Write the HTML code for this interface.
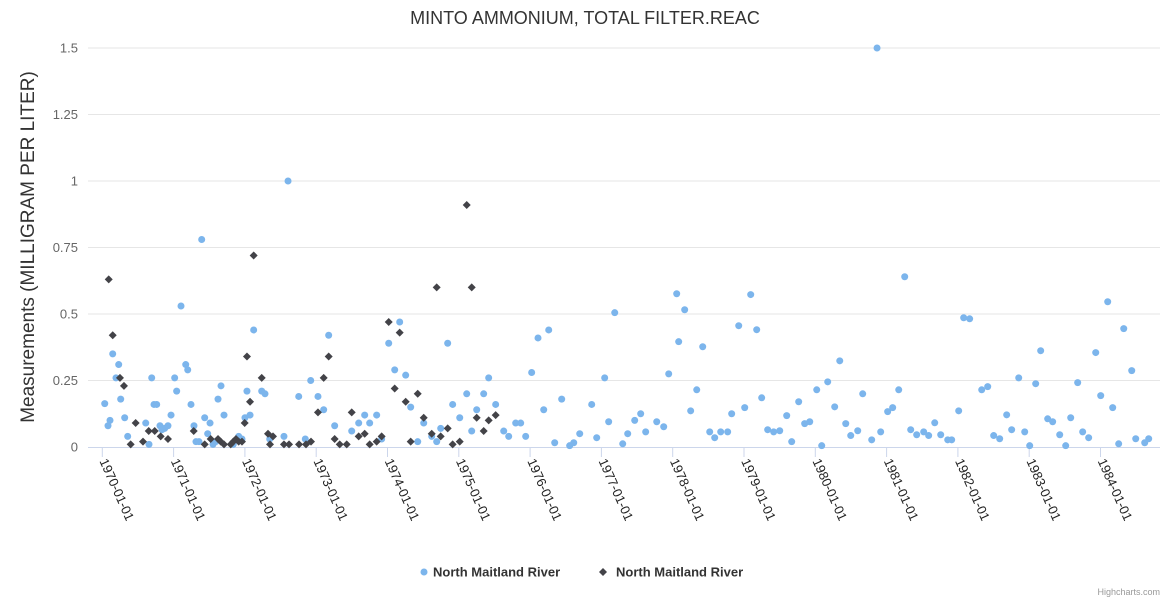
<!DOCTYPE html>
<html><head><meta charset="utf-8"><style>
html,body{margin:0;padding:0;background:#fff;}
svg{display:block;font-family:"Liberation Sans",sans-serif;}
</style></head><body>
<svg id="chart" width="1170" height="600" viewBox="0 0 1170 600">
<text x="585" y="24" text-anchor="middle" font-size="18" fill="#333">MINTO AMMONIUM, TOTAL FILTER.REAC</text>
<text transform="translate(34,247) rotate(-90)" text-anchor="middle" font-size="19" fill="#333">Measurements (MILLIGRAM PER LITER)</text>
<g id="grid"></g>
<g id="xaxis"></g>
<g id="s1"></g>
<g id="s2"></g>
<g>
<g><circle cx="424" cy="572" r="3.5" fill="#7cb5ec"/><text x="433" y="576.5" font-size="13" font-weight="bold" fill="#333">North Maitland River</text></g>
<g><path d="M603 568 L607 572 L603 576 L599 572 Z" fill="#434348"/><text x="616" y="576.5" font-size="13" font-weight="bold" fill="#333">North Maitland River</text></g>
</g>
<text x="1160" y="595" text-anchor="end" font-size="9" fill="#999">Highcharts.com</text>
</svg>
<script>
const yTicks=[0,0.25,0.5,0.75,1,1.25,1.5];
const yTickLabels=["0","0.25","0.5","0.75","1","1.25","1.5"];
const xTickYears=[1970,1971,1972,1973,1974,1975,1976,1977,1978,1979,1980,1981,1982,1983,1984];
const xTickLabels=["1970-01-01","1971-01-01","1972-01-01","1973-01-01","1974-01-01","1975-01-01","1976-01-01","1977-01-01","1978-01-01","1979-01-01","1980-01-01","1981-01-01","1982-01-01","1983-01-01","1984-01-01"];
const blueOffsets=[0.034,0.080,0.108,0.146,0.192,0.230,0.258,0.314,0.356,0.609,0.655,0.693,0.725,0.763,0.809,0.837,0.875,0.921,0.964,1.015,1.043,1.104,1.170,1.198,1.244,1.286,1.314,1.356,1.394,1.436,1.478,1.511,1.553,1.590,1.623,1.665,1.707,1.837,1.913,1.959,2.001,2.029,2.072,2.123,2.236,2.282,2.348,2.548,2.605,2.755,2.847,2.923,3.025,3.105,3.175,3.259,3.498,3.596,3.680,3.750,3.848,3.918,4.017,4.101,4.171,4.255,4.325,4.424,4.508,4.620,4.690,4.746,4.844,4.914,5.013,5.111,5.181,5.251,5.349,5.419,5.517,5.630,5.700,5.798,5.868,5.938,6.022,6.111,6.191,6.261,6.345,6.443,6.555,6.612,6.696,6.864,6.934,7.046,7.102,7.187,7.299,7.369,7.467,7.551,7.621,7.776,7.874,7.944,8.056,8.084,8.168,8.252,8.337,8.421,8.519,8.589,8.673,8.771,8.827,8.926,9.010,9.094,9.178,9.248,9.332,9.416,9.501,9.599,9.669,9.767,9.851,9.922,10.020,10.090,10.174,10.272,10.343,10.427,10.497,10.595,10.665,10.791,10.866,10.917,11.015,11.085,11.170,11.254,11.338,11.422,11.520,11.590,11.675,11.759,11.857,11.913,12.011,12.081,12.165,12.334,12.418,12.502,12.586,12.684,12.754,12.853,12.937,13.007,13.091,13.161,13.259,13.329,13.428,13.512,13.582,13.680,13.750,13.834,13.933,14.003,14.101,14.171,14.255,14.326,14.438,14.494,14.620,14.676];
const blueValues=[0.163,0.08,0.10,0.35,0.26,0.31,0.18,0.11,0.04,0.09,0.01,0.26,0.16,0.16,0.08,0.065,0.07,0.08,0.12,0.26,0.21,0.53,0.31,0.29,0.16,0.08,0.02,0.02,0.78,0.11,0.05,0.09,0.01,0.02,0.18,0.23,0.12,0.01,0.04,0.03,0.11,0.21,0.12,0.44,0.21,0.20,0.03,0.04,1.0,0.19,0.03,0.25,0.19,0.14,0.42,0.08,0.06,0.09,0.12,0.09,0.12,0.03,0.39,0.29,0.47,0.27,0.15,0.02,0.09,0.04,0.02,0.07,0.39,0.16,0.11,0.20,0.06,0.14,0.20,0.26,0.16,0.06,0.04,0.09,0.09,0.04,0.28,0.41,0.14,0.44,0.016,0.18,0.005,0.016,0.05,0.16,0.035,0.26,0.095,0.505,0.012,0.05,0.10,0.125,0.057,0.095,0.076,0.275,0.576,0.396,0.516,0.136,0.215,0.377,0.057,0.035,0.057,0.057,0.125,0.456,0.148,0.573,0.441,0.185,0.065,0.057,0.061,0.118,0.02,0.17,0.088,0.095,0.215,0.005,0.245,0.151,0.324,0.088,0.043,0.061,0.2,0.027,1.5,0.057,0.133,0.148,0.215,0.64,0.065,0.046,0.057,0.043,0.091,0.046,0.027,0.027,0.136,0.486,0.482,0.215,0.227,0.043,0.031,0.121,0.065,0.26,0.057,0.005,0.238,0.362,0.106,0.095,0.046,0.005,0.11,0.242,0.057,0.035,0.355,0.193,0.546,0.148,0.012,0.445,0.287,0.031,0.016,0.031];
const blackOffsets=[0.090,0.146,0.248,0.304,0.398,0.468,0.571,0.651,0.735,0.819,0.921,1.282,1.436,1.520,1.623,1.661,1.707,1.801,1.837,1.875,1.913,1.959,1.997,2.029,2.072,2.123,2.236,2.324,2.352,2.394,2.548,2.619,2.759,2.857,2.927,3.025,3.105,3.175,3.259,3.330,3.428,3.498,3.596,3.680,3.750,3.848,3.918,4.017,4.101,4.171,4.255,4.325,4.424,4.508,4.620,4.690,4.746,4.844,4.914,5.013,5.111,5.181,5.251,5.349,5.419,5.517];
const blackValues=[0.63,0.42,0.26,0.23,0.01,0.09,0.02,0.06,0.06,0.04,0.03,0.06,0.01,0.03,0.03,0.02,0.01,0.01,0.02,0.03,0.02,0.02,0.09,0.34,0.17,0.72,0.26,0.05,0.01,0.04,0.01,0.01,0.01,0.01,0.02,0.13,0.26,0.34,0.03,0.01,0.01,0.13,0.04,0.05,0.01,0.02,0.04,0.47,0.22,0.43,0.17,0.02,0.20,0.11,0.05,0.60,0.04,0.07,0.01,0.02,0.91,0.60,0.11,0.06,0.10,0.12];
const baseYear=1970;
const NS="http://www.w3.org/2000/svg";
function xPos(year){return 102.3+(year-1970)*71.3;}
function yPos(v){return 447-v*266;}
function mk(tag,attrs,parent){const e=document.createElementNS(NS,tag);for(const k in attrs)e.setAttribute(k,attrs[k]);parent.appendChild(e);return e;}
const grid=document.getElementById('grid');
yTicks.forEach((t,i)=>{
  if(i>0){const l=mk('line',{x1:88,x2:1160,y1:yPos(t),y2:yPos(t),stroke:'#e6e6e6','stroke-width':1},grid);
  
  }
  const tx=mk('text',{x:78,y:yPos(t)+4.5,'text-anchor':'end','font-size':13,fill:'#666'},grid);
  tx.textContent=yTickLabels[i];
  
  
});
const xa=document.getElementById('xaxis');
const al=mk('line',{x1:88,x2:1160,y1:447.5,y2:447.5,stroke:'#ccd6eb','stroke-width':1},xa);


xTickYears.forEach((yr,i)=>{
  const x=xPos(yr);
  const tk=mk('line',{x1:x,x2:x,y1:447,y2:457,stroke:'#ccd6eb','stroke-width':1},xa);
  
  
  const tx=mk('text',{transform:`translate(${x-3},${461}) rotate(66)`,'font-size':13,fill:'#222'},xa);
  tx.textContent=xTickLabels[i];
  
  
});
const s1=document.getElementById('s1');
blueOffsets.forEach((o,i)=>{
  const c=mk('circle',{cx:xPos(baseYear+o),cy:yPos(blueValues[i]),r:3.5,fill:'#7cb5ec'},s1);
  
  
});
const s2=document.getElementById('s2');
blackOffsets.forEach((o,i)=>{
  const x=xPos(baseYear+o),y=yPos(blackValues[i]);
  const p=mk('path',{d:`M${x} ${y-4} L${x+4} ${y} L${x} ${y+4} L${x-4} ${y} Z`,fill:'#434348'},s2);
  
  
});
</script>
</body></html>
